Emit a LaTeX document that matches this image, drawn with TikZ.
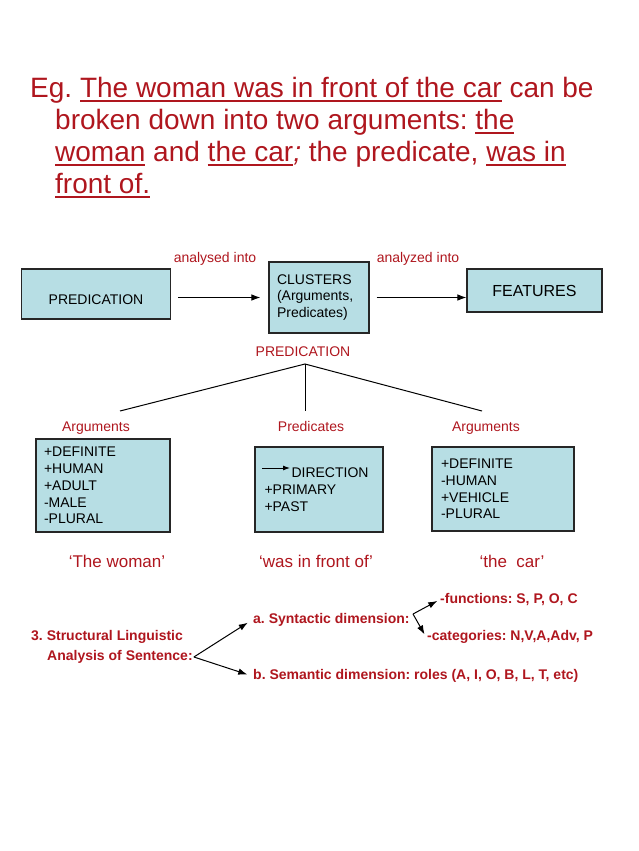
\documentclass[tikz,border=0pt]{standalone}
\usepackage{fontspec}
\setmainfont{Liberation Sans}
\usepackage{tikz}
\usetikzlibrary{positioning}
\usetikzlibrary{arrows.meta}

\definecolor{slidered}{RGB}{175,22,30}
\definecolor{boxblue}{RGB}{183,222,228}

\newsavebox{\ulwordbox}
\newcommand{\ulword}[1]{\sbox{\ulwordbox}{#1}\rlap{\rule[-4.5pt]{\wd\ulwordbox}{1.6pt}}\usebox{\ulwordbox}}
\frenchspacing

\begin{document}
\begin{tikzpicture}[
    x=1pt, y=-1pt,
    titleline/.style={anchor=base west,inner sep=0pt,text=slidered,font=\fontsize{28}{32}\selectfont},
    box/.style={rectangle,draw=black!85,line width=1.1pt,fill=boxblue,inner sep=0pt,font=\fontsize{14}{16.75}\selectfont},
    listbox/.style={box,align=left},
    redlabel/.style={text=slidered,inner sep=1pt,text height=10pt,text depth=0pt,font=\fontsize{14}{17}\selectfont},
    quoted/.style={text=slidered,inner sep=1pt,text height=12pt,text depth=0pt,font=\fontsize{17}{20}\selectfont},
    struct/.style={anchor=west,text=slidered,inner sep=1pt,font=\bfseries\fontsize{14}{17}\selectfont},
    arrow/.style={->,>={Latex[length=9pt,width=6.5pt]},line width=1pt},
    branch/.style={line width=1pt}
]
\useasboundingbox (0,0) rectangle (638,851);

% example sentence
\node[titleline] (title_l1) at (30,97) {Eg. \ulword{The woman was in front of the car} can be};
\node[titleline] (title_l2) at (55,129) {broken down into two arguments: \ulword{the}};
\node[titleline] (title_l3) at (55,161) {\ulword{woman} and \ulword{the car}\textit{;} the predicate, \ulword{was in}};
\node[titleline] (title_l4) at (55,193) {\ulword{front of.}};

% analysis chain
\node[box,minimum width=149pt,minimum height=50pt,text height=21pt] (pred_box) at (96,294) {PREDICATION};
\node[listbox,minimum width=100pt,minimum height=71pt,text width=84pt] (cluster_box) at (319,297.5) {CLUSTERS\\(Arguments,\\Predicates)};
\node[box,minimum width=135pt,minimum height=43pt,font=\fontsize{16}{19}\selectfont] (features_box) at (534.5,290.5) {FEATURES};
\node[redlabel] (analysed) at (215,257) {analysed into};
\node[redlabel] (analyzed) at (418,257) {analyzed into};
\draw[arrow,shorten <=7pt,shorten >=8pt] (pred_box.east |- cluster_box.west) -- (cluster_box.west);
\draw[arrow,shorten <=7pt] (cluster_box.east) -- (features_box.west |- cluster_box.east);

% predication tree
\node[redlabel] (pred_label) at (303,351) {PREDICATION};
\coordinate (tree_top) at (305,364);
\coordinate (arg_l_top) at (120,411);
\coordinate (predic_top) at (305,411);
\coordinate (arg_r_top) at (482,411);
\draw[branch] (arg_l_top) -- (tree_top) -- (arg_r_top);
\draw[branch] (tree_top) -- (predic_top);

\node[redlabel] (arg_l) at (96,426) {Arguments};
\node[redlabel] (predic) at (311,426) {Predicates};
\node[redlabel] (arg_r) at (486,426) {Arguments};

\node[listbox,minimum width=134pt,minimum height=93pt,text width=118pt] (woman_box) at (103,485.5) {+DEFINITE\\+HUMAN\\+ADULT\\-MALE\\-PLURAL};
\node[listbox,minimum width=128pt,minimum height=85pt,text width=109pt] (front_box) at (319,489.5) {\hspace*{27pt}DIRECTION\\+PRIMARY\\+PAST};
\coordinate (dir_tail) at (262,468);
\coordinate (dir_head) at (290,468);
\draw[arrow,line width=0.9pt,>={Latex[length=7pt,width=5pt]}] (dir_tail) -- (dir_head);
\node[listbox,minimum width=142pt,minimum height=84pt,text width=124pt] (car_box) at (503,489) {+DEFINITE\\-HUMAN\\+VEHICLE\\-PLURAL};

\node[quoted] (woman_q) at (117,561) {‘The woman’};
\node[quoted] (front_q) at (316,561) {‘was in front of’};
\node[quoted] (car_q) at (512,561) {‘the\ \ car’};

% structural analysis
\node[struct] (sent_l1) at (30,637) {3. Structural Linguistic};
\node[struct] (sent_l2) at (46,657) {Analysis of Sentence:};
\node[struct] (syn_dim) at (252,620) {a. Syntactic dimension:};
\node[struct] (sem_dim) at (252,676) {b. Semantic dimension: roles (A, I, O, B, L, T, etc)};
\node[struct] (func) at (439,600) {-functions: S, P, O, C};
\node[struct] (cat) at (426,637) {-categories: N,V,A,Adv, P};
\coordinate (syn_fork) at (413,614);
\draw[arrow,shorten >=5pt] (sent_l2.east) -- (syn_dim.west);
\draw[arrow,shorten >=5pt] (sent_l2.east) -- (sem_dim.west);
\draw[arrow,shorten >=2pt] (syn_fork) -- (func.west);
\draw[arrow,shorten >=3pt] (syn_fork) -- (cat.west);
\end{tikzpicture}
\end{document}
